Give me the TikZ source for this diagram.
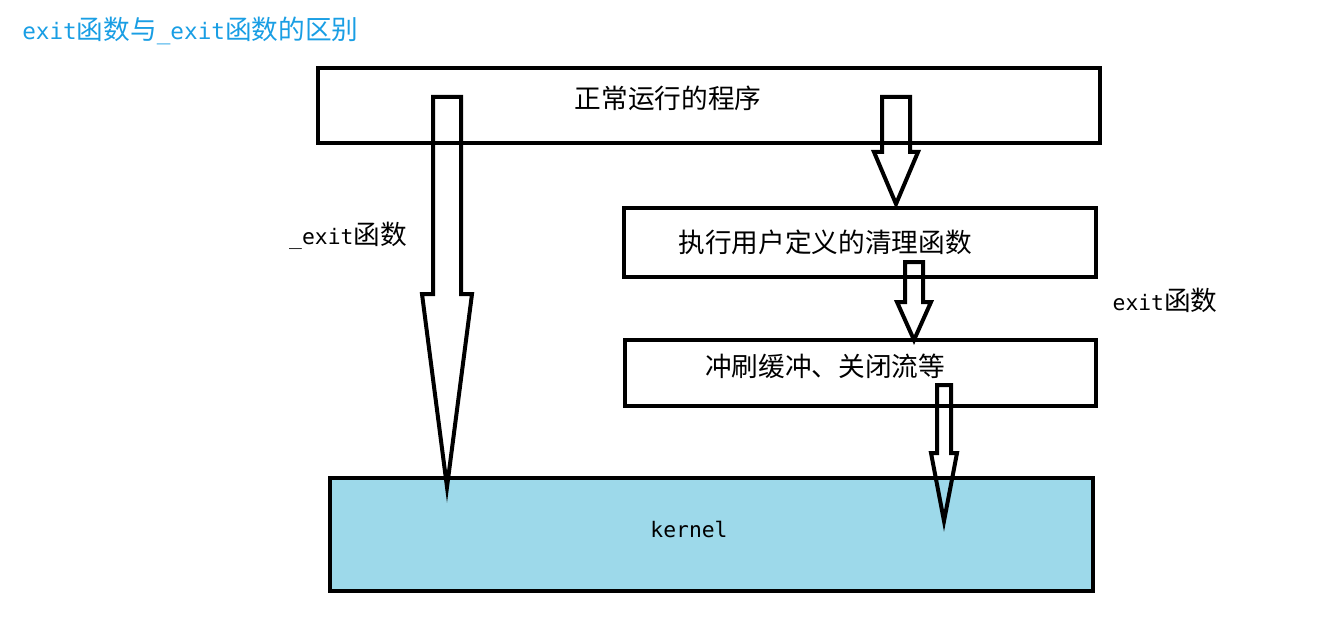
\documentclass[tikz,border=0pt]{standalone}
\usepackage{fontspec}
\setmainfont{DejaVu Sans Mono}
\newfontfamily\cjk{Noto Sans CJK SC}
\usepackage{tikz}
\usetikzlibrary{positioning}

\definecolor{titleblue}{RGB}{25,158,228}
\definecolor{kernelblue}{RGB}{157,217,234}

\tikzset{
  box/.style={draw, line width=3pt, inner sep=0pt, anchor=north west},
  boxtext/.style={inner sep=0pt, font=\fontsize{16}{20}\selectfont},
  fatarrow/.style={draw, line width=3pt, line join=miter},
}

% Blockpfeil: x-Mitte, halbe Schaftbreite, oben, halbe Spitzenbreite, Spitzenansatz, Spitze
\newcommand{\blockarrow}[6]{%
  \draw[fatarrow] (#1-#2,#3) -- (#1+#2,#3) -- (#1+#2,#5) -- (#1+#4,#5)
    -- (#1,#6) -- (#1-#4,#5) -- (#1-#2,#5) -- cycle;}

\newcommand{\zh}[1]{{\cjk\fontsize{20}{24}\selectfont #1}}

\begin{document}
\begin{tikzpicture}[x=0.75pt, y=-0.75pt]
\useasboundingbox (0,0) rectangle (1337,620);

% Titel
\node[anchor=west, inner sep=0pt, text=titleblue, font=\fontsize{17}{20}\selectfont]
  (title) at (22,31) {exit\zh{函数与}\_exit\zh{函数的区别}};

% Kaesten
\node[box, minimum width={782*0.75pt}, minimum height={75*0.75pt}] (prog) at (316,66) {};
\node[box, minimum width={472*0.75pt}, minimum height={69*0.75pt}] (cleanup) at (622,206) {};
\node[box, minimum width={471*0.75pt}, minimum height={66*0.75pt}] (flush) at (623,338) {};
\node[box, fill=kernelblue, minimum width={763*0.75pt}, minimum height={113*0.75pt}] (kernel) at (328,476) {};

% Beschriftungen
\node[boxtext] (progtext) at (668,98) {\zh{正常运行的程序}};
\node[boxtext] (cleanuptext) at (825,242) {\zh{执行用户定义的清理函数}};
\node[boxtext] (flushtext) at (825,366) {\zh{冲刷缓冲、关闭流等}};
\node[boxtext] (kerneltext) at (689,529) {kernel};
\node[boxtext] (underexit) at (348,236) {\_exit\zh{函数}};
\node[boxtext] (exitlabel) at (1165,300) {exit\zh{函数}};

% Pfeile
\blockarrow{447}{14}{97}{25}{294}{487}
\blockarrow{896}{14}{97}{22}{152}{204}
\blockarrow{914}{9}{262}{17}{302}{340}
\blockarrow{944}{7}{385}{13}{453}{521}
\end{tikzpicture}
\end{document}
